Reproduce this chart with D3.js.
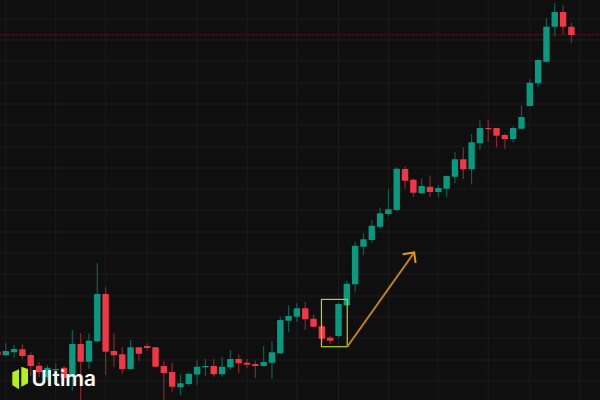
<!DOCTYPE html>
<html><head><meta charset="utf-8">
<script src="https://cdn.jsdelivr.net/npm/d3@7"></script>
<style>html,body{margin:0;padding:0;background:#0f0f0f;overflow:hidden}svg{display:block}</style>
</head><body><svg id="c" width="600" height="400"></svg>
<script>
const startIndex=-1;
const opens=[48.3,44.7,47.7,50.7,45,34.3,23,29.7,32.3,23.3,56,38.3,58.7,106,49,45.7,31,52.7,54,52.7,34,28,12.7,16,25.5,32.7,34,25.7,32.7,41,37.3,36,34,37.3,46.7,79.3,83.3,91.7,81.3,73.7,62.3,64,94.7,115.7,153.3,160,173.3,186,190,231,220.3,206.7,213.3,208,211.3,223.3,240.7,230.7,256.7,272,272,265,261,271.3,294,316.7,338.3,373.3,388,373.3];
const closes=[45,49,51,44,34,27.7,32.3,31,22,56,38.3,59.3,106,48.3,44.7,31,52.7,46.3,52,33.3,27,13.3,16.7,26.3,33.3,34,25.7,33.3,41,36.7,35.3,34,38,47.7,80,84,91.7,80.7,73.3,61.3,59.3,96,116.3,154.3,160.7,174.3,186.7,190.7,231.3,219.3,207.3,214,208,212,224,240.7,230.7,257.7,272,271,264.3,261,272,283,317.3,340,373.3,388,373.3,365];
const highs=[50,57,55,55.7,47.7,38,35,36,34,70,66.7,66.7,136.7,112.7,66.7,52.7,60,53,56.7,53,39,37.3,25.7,26.5,39.3,41,41,43.3,50,45.7,41,39.3,54,59,82.7,94.7,96.7,98,85.7,76.7,64,97.3,119.3,158.3,166.7,180,192.3,211,232.7,234,221.7,221.7,224.3,214.7,224.5,248,252.7,266,280,280,272.2,266.7,273.3,294.7,320.7,340.2,381.7,396.7,395,377.3];
const lows=[43,44,42.3,41.7,24,23,20,22,20,9.3,-2,31.3,57,25,33.3,26,30.5,39,49.3,33,-2,8.3,5,14.3,15,24,23.3,23.3,30,26.7,32,22.3,33.5,21,46,67.7,78,70,73,57,56,62.3,94,108.3,144.7,157.3,171.3,183.3,188.3,211.7,203,206.5,203,203,203,216.7,221,215.7,250,258.3,252.7,251,257.7,271,293.7,313.3,337.3,363.3,365.7,357.3];
const gridIndices=[0,6,12,17,23,29,35,40,46,52,58,63,69];
const gridPrices=[19,40,62,83,104,126,147,168,190,211,232,253,275,296,317,339,360,381];
const lastPrice=[365.3];
const boxIndex=[37.95,41.05];
const boxPrice=[100.6,53.3];
const arrowIndex=[41.05,49.1];
const arrowPrice=[53.3,147.5];
const brand=["Ultima"];

const UP="#089981",DOWN="#f23645";
const x=d3.scaleLinear().domain([0,68]).range([5.8,571.4]);
const y=d3.scaleLinear().domain([0,400]).range([400,0]);
const svg=d3.select("#c");
svg.append("rect").attr("width",600).attr("height",400).attr("fill","#0f0f0f");
const grid=svg.append("g").attr("stroke","#1c1c1c").attr("stroke-width",1);
grid.selectAll(".v").data(gridIndices).join("line").attr("x1",d=>x(d)).attr("x2",d=>x(d)).attr("y1",0).attr("y2",400);
grid.selectAll(".h").data(gridPrices).join("line").attr("x1",0).attr("x2",600).attr("y1",d=>y(d)).attr("y2",d=>y(d));
svg.selectAll(".last").data(lastPrice).join("line").attr("x1",0).attr("x2",600).attr("y1",d=>y(d)).attr("y2",d=>y(d))
  .attr("stroke","#5a1f26").attr("stroke-width",1).attr("stroke-dasharray","1.2 0.8");
const candles=opens.map((o,i)=>({i:i+startIndex,o,c:closes[i],h:highs[i],l:lows[i]}));
const g=svg.append("g");
g.selectAll(".wick").data(candles).join("line").attr("x1",d=>x(d.i)).attr("x2",d=>x(d.i))
  .attr("y1",d=>y(d.h)).attr("y2",d=>y(d.l)).attr("stroke",d=>d.c>=d.o?"#0b5f52":"#862731").attr("stroke-width",1.2);
g.selectAll(".body").data(candles).join("rect").attr("x",d=>x(d.i)-3.2).attr("width",6.4)
  .attr("y",d=>y(Math.max(d.o,d.c))).attr("height",d=>Math.max(1,Math.abs(y(d.o)-y(d.c))))
  .attr("rx",0.4).attr("fill",d=>d.c>=d.o?UP:DOWN);
svg.append("rect").attr("x",x(boxIndex[0])).attr("width",x(boxIndex[1])-x(boxIndex[0]))
  .attr("y",y(boxPrice[0])).attr("height",y(boxPrice[1])-y(boxPrice[0]))
  .attr("fill","none").attr("stroke","#b4d41a").attr("stroke-width",1.2);
const ax1=x(arrowIndex[0]),ay1=y(arrowPrice[0]),ax2=x(arrowIndex[1]),ay2=y(arrowPrice[1]);
const arrow=svg.append("g").attr("fill","none").attr("stroke","#c8860f").attr("stroke-width",1.9);
arrow.append("line").attr("x1",ax1).attr("y1",ay1).attr("x2",ax2).attr("y2",ay2);
arrow.append("path").attr("d",d3.line()([[ax2-11.5,ay2+1.7],[ax2,ay2],[ax2+1.4,ay2+10.5]])).attr("stroke","#e8960f").attr("stroke-width",2);
const logo=svg.append("g").attr("fill","#b6f014");
logo.append("polygon").attr("points","12.3,372.3 19,369.3 19,389.3 12.3,385");
logo.append("polygon").attr("points","21.3,366.7 28,369 28,383.3 21.3,386.7");
svg.append("text").attr("x",31.5).attr("y",386.3).attr("font-family","Inter").attr("font-weight",600).attr("font-size",20.8).attr("fill","#ffffff").text(brand[0]);
</script></body></html>
